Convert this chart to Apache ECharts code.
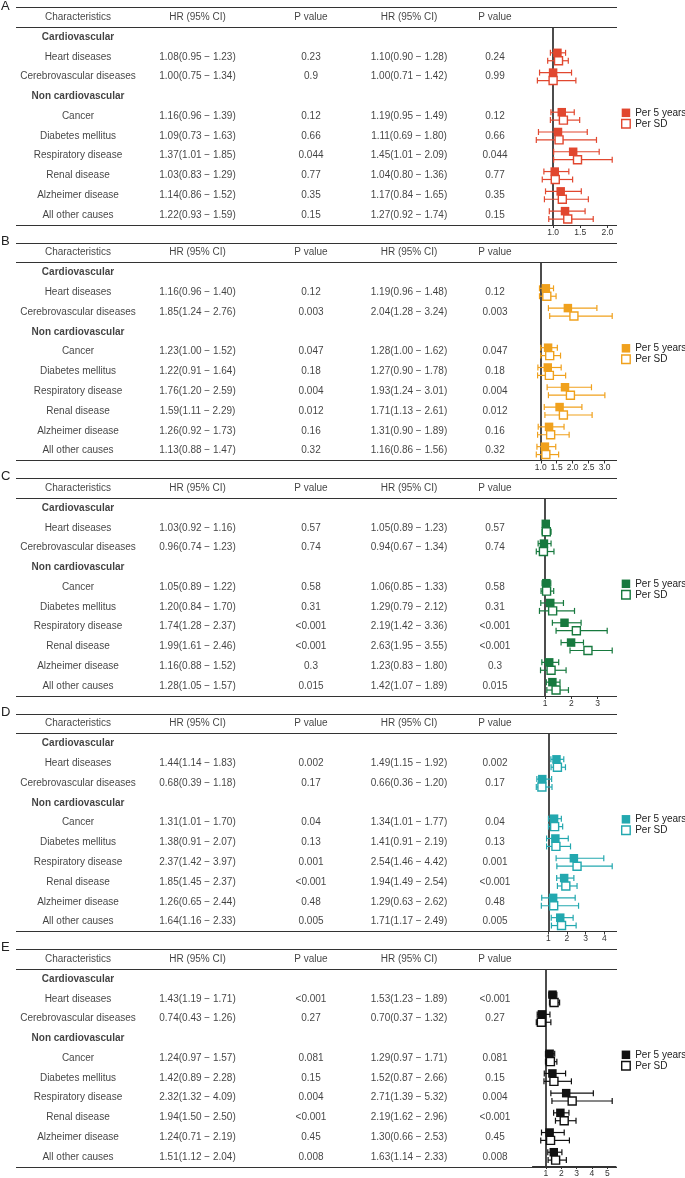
<!DOCTYPE html>
<html><head><meta charset="utf-8">
<script src="https://cdn.jsdelivr.net/npm/echarts@6/dist/echarts.min.js"></script>
<style>html,body{margin:0;padding:0;background:#fff}#c{width:685px;height:1178px}</style>
</head><body><div id="c"></div>
<script>
// ---------- data ----------
const causes = ['Heart diseases','Cerebrovascular diseases','Cancer','Diabetes mellitus','Respiratory disease','Renal disease','Alzheimer disease','All other causes'];
const groupLabels = ['Cardiovascular','Non cardiovascular'];
const headers = ['Characteristics','HR (95% CI)','P value','HR (95% CI)','P value'];
const legendNames = ['Per 5 years','Per SD'];
const panelLetters = ['A','B','C','D','E'];

// Panel A
const A_hr5 = [1.08,1.00,1.16,1.09,1.37,1.03,1.14,1.22];
const A_lo5 = [0.95,0.75,0.96,0.73,1.01,0.83,0.86,0.93];
const A_hi5 = [1.23,1.34,1.39,1.63,1.85,1.29,1.52,1.59];
const A_p5  = ['0.23','0.9','0.12','0.66','0.044','0.77','0.35','0.15'];
const A_hrSD = [1.10,1.00,1.19,1.11,1.45,1.04,1.17,1.27];
const A_loSD = [0.90,0.71,0.95,0.69,1.01,0.80,0.84,0.92];
const A_hiSD = [1.28,1.42,1.49,1.80,2.09,1.36,1.65,1.74];
const A_pSD  = ['0.24','0.99','0.12','0.66','0.044','0.77','0.35','0.15'];
const A_ticks = [1.0,1.5,2.0];

// Panel B
const B_hr5 = [1.16,1.85,1.23,1.22,1.76,1.59,1.26,1.13];
const B_lo5 = [0.96,1.24,1.00,0.91,1.20,1.11,0.92,0.88];
const B_hi5 = [1.40,2.76,1.52,1.64,2.59,2.29,1.73,1.47];
const B_p5  = ['0.12','0.003','0.047','0.18','0.004','0.012','0.16','0.32'];
const B_hrSD = [1.19,2.04,1.28,1.27,1.93,1.71,1.31,1.16];
const B_loSD = [0.96,1.28,1.00,0.90,1.24,1.13,0.90,0.86];
const B_hiSD = [1.48,3.24,1.62,1.78,3.01,2.61,1.89,1.56];
const B_pSD  = ['0.12','0.003','0.047','0.18','0.004','0.012','0.16','0.32'];
const B_ticks = [1.0,1.5,2.0,2.5,3.0];

// Panel C
const C_hr5 = [1.03,0.96,1.05,1.20,1.74,1.99,1.16,1.28];
const C_lo5 = [0.92,0.74,0.89,0.84,1.28,1.61,0.88,1.05];
const C_hi5 = [1.16,1.23,1.22,1.70,2.37,2.46,1.52,1.57];
const C_p5  = ['0.57','0.74','0.58','0.31','<0.001','<0.001','0.3','0.015'];
const C_hrSD = [1.05,0.94,1.06,1.29,2.19,2.63,1.23,1.42];
const C_loSD = [0.89,0.67,0.85,0.79,1.42,1.95,0.83,1.07];
const C_hiSD = [1.23,1.34,1.33,2.12,3.36,3.55,1.80,1.89];
const C_pSD  = ['0.57','0.74','0.58','0.31','<0.001','<0.001','0.3','0.015'];
const C_ticks = [1,2,3];

// Panel D
const D_hr5 = [1.44,0.68,1.31,1.38,2.37,1.85,1.26,1.64];
const D_lo5 = [1.14,0.39,1.01,0.91,1.42,1.45,0.65,1.16];
const D_hi5 = [1.83,1.18,1.70,2.07,3.97,2.37,2.44,2.33];
const D_p5  = ['0.002','0.17','0.04','0.13','0.001','<0.001','0.48','0.005'];
const D_hrSD = [1.49,0.66,1.34,1.41,2.54,1.94,1.29,1.71];
const D_loSD = [1.15,0.36,1.01,0.91,1.46,1.49,0.63,1.17];
const D_hiSD = [1.92,1.20,1.77,2.19,4.42,2.54,2.62,2.49];
const D_pSD  = ['0.002','0.17','0.04','0.13','0.001','<0.001','0.48','0.005'];
const D_ticks = [1,2,3,4];

// Panel E
const E_hr5 = [1.43,0.74,1.24,1.42,2.32,1.94,1.24,1.51];
const E_lo5 = [1.19,0.43,0.97,0.89,1.32,1.50,0.71,1.12];
const E_hi5 = [1.71,1.26,1.57,2.28,4.09,2.50,2.19,2.04];
const E_p5  = ['<0.001','0.27','0.081','0.15','0.004','<0.001','0.45','0.008'];
const E_hrSD = [1.53,0.70,1.29,1.52,2.71,2.19,1.30,1.63];
const E_loSD = [1.23,0.37,0.97,0.87,1.39,1.62,0.66,1.14];
const E_hiSD = [1.89,1.32,1.71,2.66,5.32,2.96,2.53,2.33];
const E_pSD  = ['<0.001','0.27','0.081','0.15','0.004','<0.001','0.45','0.008'];
const E_ticks = [1,2,3,4,5];

const panels = [
  {hr5:A_hr5,lo5:A_lo5,hi5:A_hi5,p5:A_p5,hrSD:A_hrSD,loSD:A_loSD,hiSD:A_hiSD,pSD:A_pSD,ticks:A_ticks,dec:1},
  {hr5:B_hr5,lo5:B_lo5,hi5:B_hi5,p5:B_p5,hrSD:B_hrSD,loSD:B_loSD,hiSD:B_hiSD,pSD:B_pSD,ticks:B_ticks,dec:1},
  {hr5:C_hr5,lo5:C_lo5,hi5:C_hi5,p5:C_p5,hrSD:C_hrSD,loSD:C_loSD,hiSD:C_hiSD,pSD:C_pSD,ticks:C_ticks,dec:0},
  {hr5:D_hr5,lo5:D_lo5,hi5:D_hi5,p5:D_p5,hrSD:D_hrSD,loSD:D_loSD,hiSD:D_hiSD,pSD:D_pSD,ticks:D_ticks,dec:0},
  {hr5:E_hr5,lo5:E_lo5,hi5:E_hi5,p5:E_p5,hrSD:E_hrSD,loSD:E_loSD,hiSD:E_hiSD,pSD:E_pSD,ticks:E_ticks,dec:0}
];
const panelColors = ['#E1472F','#F0A11D','#17793E','#23A8AF','#111111'];

// ---------- layout ----------
const FONT = '"Liberation Sans", Arial, Helvetica, sans-serif';
const TABLE_LEFT = 16, TABLE_RIGHT = 617;
const PANEL_STEP = 235.5, FIRST_TOP = 7.3, TABLE_H = 217.7;
const PLOT_LEFT = 532.5, PLOT_W = 83.5;
const colX = [78, 197.5, 311, 409, 495];
const causeRows = [2,3,5,6,7,8,9,10];
const groupRows = [1,4];
const OFF = 0.2;

function fmtHR(h,l,u){ return h.toFixed(2)+'('+l.toFixed(2)+' \u2212 '+u.toFixed(2)+')'; }

function errRender(params, api){
  const y = api.value(2);
  const a = api.coord([api.value(0), y]);
  const b = api.coord([api.value(1), y]);
  const h = 3;
  const st = {stroke: api.visual('color'), lineWidth: 1.2, fill: null};
  return {type:'group', children:[
    {type:'line', shape:{x1:a[0],y1:a[1],x2:b[0],y2:b[1]}, style:st},
    {type:'line', shape:{x1:a[0],y1:a[1]-h,x2:a[0],y2:a[1]+h}, style:st},
    {type:'line', shape:{x1:b[0],y1:b[1]-h,x2:b[0],y2:b[1]+h}, style:st}
  ]};
}

const grid=[], xAxis=[], yAxis=[], series=[], title=[], legend=[];
panels.forEach((P,k)=>{
  const base = FIRST_TOP + PANEL_STEP*k;
  const c = panelColors[k];
  const tg = 2*k, pg = 2*k+1;
  grid.push({left:TABLE_LEFT, width:TABLE_RIGHT-TABLE_LEFT, top:base, height:TABLE_H});
  grid.push({left:PLOT_LEFT, width:PLOT_W, top:base+TABLE_H/11, height:TABLE_H*10/11});
  xAxis.push({gridIndex:tg, type:'value', min:TABLE_LEFT, max:TABLE_RIGHT, show:false});
  yAxis.push({gridIndex:tg, type:'value', min:0, max:11, inverse:true, show:false});
  const all = P.lo5.concat(P.loSD, P.hi5, P.hiSD);
  const mn = Math.min(...all), mx = Math.max(...all), r = mx-mn;
  xAxis.push({gridIndex:pg, type:'value', min:mn-0.05*r, max:mx+0.05*r,
    axisLine:{show:true, lineStyle:{color:'#333', width:1}},
    axisTick:{show:true, customValues:P.ticks, length:3, lineStyle:{color:'#333', width:1}},
    axisLabel:{show:true, customValues:P.ticks, margin:3, fontSize:8.5, color:'#333', fontFamily:FONT,
      formatter:v=>Number(v).toFixed(P.dec)},
    splitLine:{show:false}});
  yAxis.push({gridIndex:pg, type:'value', min:1, max:11, inverse:true, show:false});

  // table texts
  const tdata = [];
  headers.forEach((h,i)=>tdata.push({name:h, value:[colX[i],0.5]}));
  groupLabels.forEach((g,i)=>tdata.push({name:g, value:[colX[0],groupRows[i]+0.5], label:{fontWeight:'bold'}}));
  causes.forEach((cn,i)=>{
    const y = causeRows[i]+0.5;
    tdata.push({name:cn, value:[colX[0],y]});
    tdata.push({name:fmtHR(P.hr5[i],P.lo5[i],P.hi5[i]), value:[colX[1],y]});
    tdata.push({name:P.p5[i], value:[colX[2],y]});
    tdata.push({name:fmtHR(P.hrSD[i],P.loSD[i],P.hiSD[i]), value:[colX[3],y]});
    tdata.push({name:P.pSD[i], value:[colX[4],y]});
  });
  series.push({type:'scatter', xAxisIndex:tg, yAxisIndex:tg, silent:true, clip:false,
    symbolSize:0.1, itemStyle:{color:'rgba(0,0,0,0)'},
    label:{show:true, position:'inside', formatter:'{b}', fontSize:10, color:'#111', fontFamily:FONT, align:'center', verticalAlign:'middle'},
    data:tdata,
    markLine:{silent:true, symbol:'none', label:{show:false}, lineStyle:{color:'#333', width:1.1, type:'solid'},
      data:[{yAxis:0},{yAxis:1},{yAxis:11}]}
  });

  // error bars
  const e5 = causes.map((_,i)=>[P.lo5[i],P.hi5[i],causeRows[i]+0.5-OFF]);
  const eS = causes.map((_,i)=>[P.loSD[i],P.hiSD[i],causeRows[i]+0.5+OFF]);
  [e5,eS].forEach(d=>series.push({type:'custom', xAxisIndex:pg, yAxisIndex:pg, silent:true, clip:false,
    itemStyle:{color:c}, renderItem:errRender, encode:{x:[0,1], y:2}, data:d, z:2}));

  const n5 = legendNames[0]+'#'+k, nS = legendNames[1]+'#'+k;
  series.push({type:'scatter', name:n5, xAxisIndex:pg, yAxisIndex:pg, silent:true, z:3,
    symbol:'rect', symbolSize:8.5, itemStyle:{color:c, opacity:1},
    data:causes.map((_,i)=>[P.hr5[i], causeRows[i]+0.5-OFF]),
    markLine:{silent:true, symbol:'none', label:{show:false}, lineStyle:{color:'#111', width:1.5, type:'solid'}, data:[{xAxis:1}], z:1}
  });
  series.push({type:'scatter', name:nS, xAxisIndex:pg, yAxisIndex:pg, silent:true, z:4,
    symbol:'rect', symbolSize:8, itemStyle:{color:'#fff', borderColor:c, borderWidth:1.4, opacity:1},
    data:causes.map((_,i)=>[P.hrSD[i], causeRows[i]+0.5+OFF])
  });

  title.push({text:panelLetters[k], left:1, top:Math.max(0, base-8), padding:0,
    textStyle:{fontSize:13, fontWeight:'normal', color:'#222', fontFamily:FONT}});
  legend.push({orient:'vertical', left:621, top:base+100.5, padding:0, itemGap:1, itemWidth:8.5, itemHeight:8.5,
    selectedMode:false, textStyle:{fontSize:10, color:'#222', fontFamily:FONT, lineHeight:9},
    formatter:name=>name.split('#')[0],
    data:[{name:n5, icon:'rect', itemStyle:{color:c}},
          {name:nS, icon:'rect', itemStyle:{color:'#fff', borderColor:c, borderWidth:1.4}}]});
});

const chart = echarts.init(document.getElementById('c'), null, {renderer:'canvas'});
chart.setOption({animation:false, backgroundColor:'#fff', grid, xAxis, yAxis, series, title, legend});
</script></body></html>
